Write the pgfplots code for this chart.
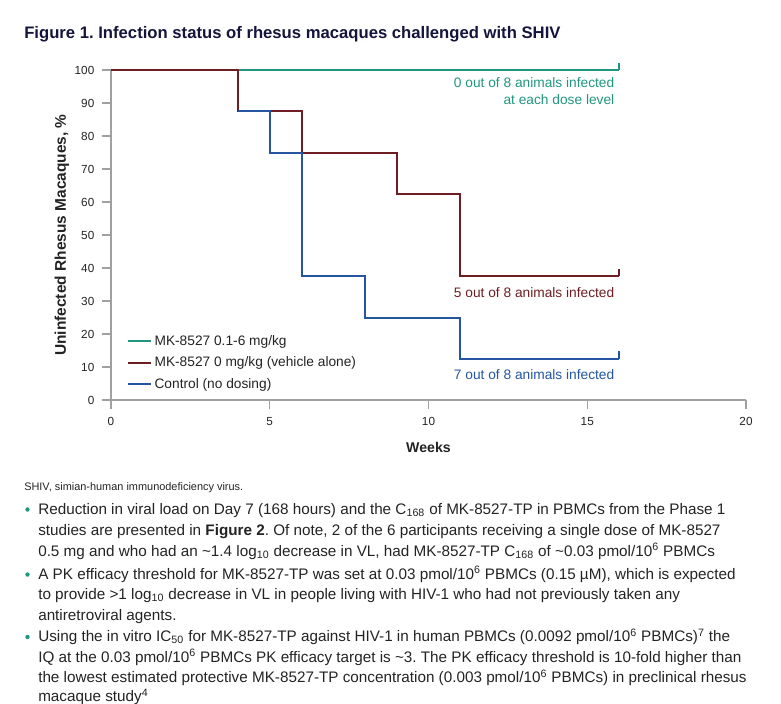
\documentclass[border=0pt]{standalone}
\usepackage{fontspec}
\setmainfont{Liberation Sans}
\usepackage{pgfplots}
\pgfplotsset{compat=1.18}
\definecolor{cteal}{RGB}{32,150,128}
\definecolor{cmaroon}{RGB}{110,30,35}
\definecolor{cblue}{RGB}{35,85,160}
\definecolor{cnavy}{RGB}{20,20,60}
\definecolor{caxis}{RGB}{160,160,160}
\definecolor{ctext}{RGB}{35,35,35}
\frenchspacing
\begin{document}
\frenchspacing
\begin{tikzpicture}[x=0.75pt,y=-0.75pt]
\useasboundingbox (0,0) rectangle (781,703);
\begin{axis}[
  at={(83.25pt,-300pt)}, anchor=south west,
  scale only axis, width=476.25pt, height=247.5pt,
  xmin=0, xmax=20, ymin=0, ymax=100,
  axis x line*=bottom, axis y line*=left,
  axis line style={draw=caxis, line width=1pt, -},
  every tick/.style={draw=caxis, line width=1pt},
  tick align=outside, major tick length=7pt,
  xtick={0,5,10,15,20}, ytick={0,10,...,100},
  /pgf/number format/assume math mode=true,
  tick label style={font=\fontsize{8.8}{10}\selectfont, text=ctext},
  xticklabel style={yshift=-2.2pt},
  yticklabel style={xshift=-2pt},
  xlabel={Weeks}, ylabel={Uninfected Rhesus Macaques, \%},
  label style={font=\bfseries\fontsize{10.6}{12}\selectfont, text=ctext},
  xlabel style={at={(axis description cs:0.5,0)}, anchor=center, yshift=-35.25pt},
  ylabel style={at={(axis description cs:-0.0772,0.5)}, anchor=center, font=\bfseries\fontsize{11.6}{13}\selectfont},
  clip=false,
  legend style={draw=none, fill=none, at={(axis cs:0.5,20.5)}, anchor=north west,
    font=\fontsize{10.3}{12}\selectfont, text=ctext, legend cell align=left,
    row sep=3.2pt, inner sep=0pt},
  legend cell align=left,
]
\addplot[cteal, line width=1.5pt, const plot] coordinates {(0,100) (16,100)};
\addlegendentry{MK-8527 0.1-6 mg/kg}
\addplot[cmaroon, line width=1.5pt, const plot] coordinates {(0,100) (4,87.5) (6,75) (9,62.5) (11,37.5) (16,37.5)};
\addlegendentry{MK-8527 0 mg/kg (vehicle alone)}
\addplot[cblue, line width=1.5pt, const plot] coordinates {(4,87.5) (5,75) (6,37.5) (8,25) (11,12.5) (16,12.5)};
\addlegendentry{Control (no dosing)}
\addplot[cteal, line width=1.5pt, forget plot] coordinates {(16,100) (16,102.2)};
\addplot[cmaroon, line width=1.5pt, forget plot] coordinates {(16,37.5) (16,39.7)};
\addplot[cblue, line width=1.5pt, forget plot] coordinates {(16,12.5) (16,14.7)};
\node[anchor=base east, text=cteal, font=\fontsize{10.3}{12}\selectfont] at (axis cs:16,94.8) {0 out of 8 animals infected};
\node[anchor=base east, text=cteal, font=\fontsize{10.3}{12}\selectfont] at (axis cs:16,89.4) {at each dose level};
\node[anchor=base east, text=cmaroon, font=\fontsize{10.3}{12}\selectfont] at (axis cs:16,31.0) {5 out of 8 animals infected};
\node[anchor=base east, text=cblue, font=\fontsize{10.3}{12}\selectfont] at (axis cs:16,6.2) {7 out of 8 animals infected};
\end{axis}
\node[anchor=base west, text=cnavy, font=\bfseries\fontsize{12.5}{14}\selectfont, inner sep=0pt] at (24,38) {Figure 1. Infection status of rhesus macaques challenged with SHIV};
\node[anchor=base west, text=ctext, font=\fontsize{8.2}{10}\selectfont, inner sep=0pt] at (24,490) {SHIV, simian-human immunodeficiency virus.};
\begin{scope}[every node/.style={anchor=base west, text=ctext, font=\fontsize{11.45}{14}\selectfont, inner sep=0pt}]
\node at (38,514) {Reduction in viral load on Day 7 (168 hours) and the C\textsubscript{168} of MK-8527-TP in PBMCs from the Phase 1};
\node at (38,535) {studies are presented in \textbf{Figure 2}. Of note, 2 of the 6 participants receiving a single dose of MK-8527};
\node at (38,556) {0.5 mg and who had an \textasciitilde1.4 log\textsubscript{10} decrease in VL, had MK-8527-TP C\textsubscript{168} of \textasciitilde0.03 pmol/10\textsuperscript{6} PBMCs};
\node at (38,579) {A PK efficacy threshold for MK-8527-TP was set at 0.03 pmol/10\textsuperscript{6} PBMCs (0.15 µM), which is expected};
\node at (38,599.5) {to provide >1 log\textsubscript{10} decrease in VL in people living with HIV-1 who had not previously taken any};
\node at (38,620) {antiretroviral agents.};
\node at (38,641.5) {Using the in vitro IC\textsubscript{50} for MK-8527-TP against HIV-1 in human PBMCs (0.0092 pmol/10\textsuperscript{6} PBMCs)\textsuperscript{7} the};
\node at (38,662) {IQ at the 0.03 pmol/10\textsuperscript{6} PBMCs PK efficacy target is \textasciitilde3. The PK efficacy threshold is 10-fold higher than};
\node at (38,682.5) {the lowest estimated protective MK-8527-TP concentration (0.003 pmol/10\textsuperscript{6} PBMCs) in preclinical rhesus};
\node at (38,701.5) {macaque study\textsuperscript{4}};
\end{scope}
\fill[cteal] (27.5,509.5) circle (2.2);
\fill[cteal] (27.5,574.5) circle (2.2);
\fill[cteal] (27.5,637) circle (2.2);
\end{tikzpicture}
\end{document}
